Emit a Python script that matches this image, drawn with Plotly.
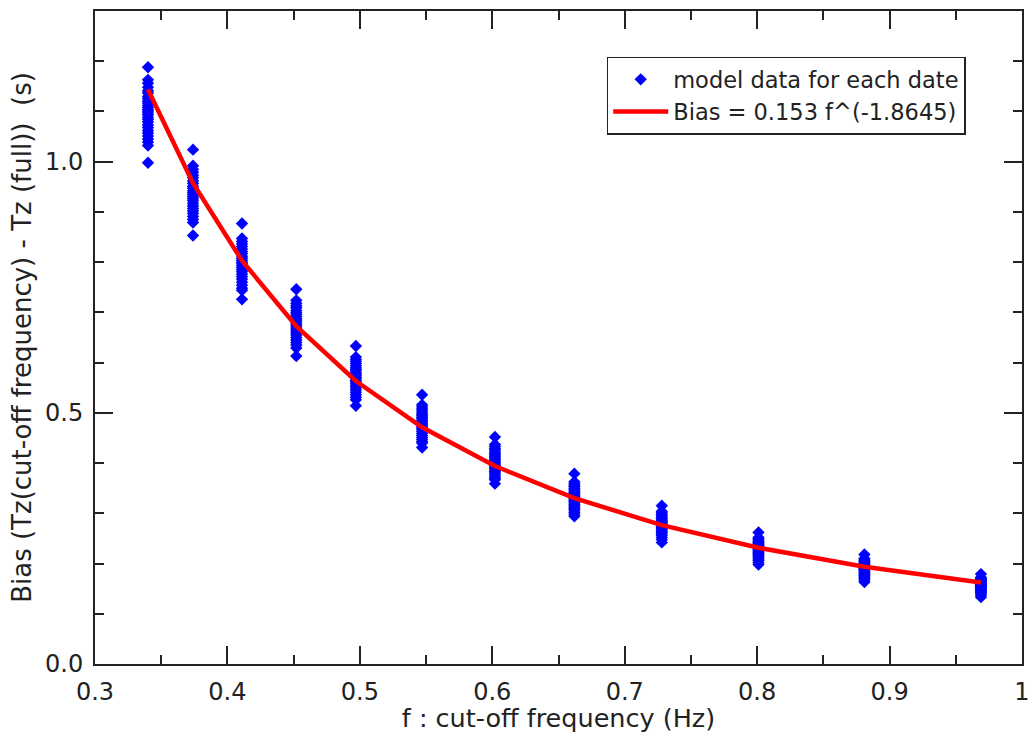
import numpy as np
import plotly.graph_objects as go

# Cut-off frequencies (Hz) used for each model run
cutoff_freq = [0.340, 0.374, 0.411, 0.452, 0.497, 0.547, 0.602, 0.662, 0.728, 0.801, 0.881, 0.969]

# Bias (s) for each date, grouped by cut-off frequency
bias_f0340 = [1.188, 1.163, 1.156, 1.148, 1.141, 1.137, 1.130, 1.126, 1.121, 1.117, 1.112, 1.108,
              1.104, 1.101, 1.097, 1.093, 1.088, 1.084, 1.079, 1.073, 1.068, 1.062, 1.057, 1.051,
              1.045, 1.039, 1.032, 0.998]
bias_f0374 = [1.024, 0.992, 0.985, 0.979, 0.973, 0.968, 0.962, 0.957, 0.951, 0.947, 0.942, 0.938,
              0.934, 0.930, 0.926, 0.922, 0.917, 0.912, 0.907, 0.902, 0.897, 0.891, 0.885, 0.879,
              0.853]
bias_f0411 = [0.877, 0.847, 0.841, 0.836, 0.831, 0.826, 0.821, 0.817, 0.812, 0.808, 0.804, 0.800,
              0.797, 0.793, 0.789, 0.785, 0.781, 0.776, 0.771, 0.766, 0.760, 0.754, 0.748, 0.744,
              0.726]
bias_f0452 = [0.746, 0.724, 0.718, 0.713, 0.709, 0.704, 0.700, 0.696, 0.692, 0.688, 0.685, 0.682,
              0.678, 0.675, 0.671, 0.667, 0.663, 0.659, 0.655, 0.650, 0.645, 0.640, 0.635, 0.629,
              0.613]
bias_f0497 = [0.633, 0.611, 0.606, 0.602, 0.598, 0.594, 0.590, 0.587, 0.584, 0.580, 0.577, 0.574,
              0.571, 0.568, 0.565, 0.562, 0.558, 0.554, 0.550, 0.546, 0.541, 0.536, 0.531, 0.526,
              0.514]
bias_f0547 = [0.536, 0.516, 0.512, 0.508, 0.504, 0.500, 0.497, 0.494, 0.491, 0.488, 0.485, 0.482,
              0.479, 0.476, 0.473, 0.470, 0.467, 0.463, 0.459, 0.455, 0.451, 0.447, 0.443, 0.440,
              0.431]
bias_f0602 = [0.452, 0.437, 0.433, 0.429, 0.426, 0.422, 0.419, 0.416, 0.413, 0.410, 0.407, 0.404,
              0.401, 0.398, 0.395, 0.392, 0.389, 0.386, 0.383, 0.380, 0.377, 0.373, 0.370, 0.367,
              0.359]
bias_f0662 = [0.379, 0.363, 0.359, 0.356, 0.353, 0.350, 0.347, 0.344, 0.341, 0.339, 0.336, 0.334,
              0.331, 0.329, 0.326, 0.324, 0.321, 0.318, 0.315, 0.312, 0.309, 0.306, 0.302, 0.298,
              0.294]
bias_f0728 = [0.315, 0.304, 0.301, 0.298, 0.295, 0.292, 0.290, 0.288, 0.285, 0.283, 0.281, 0.279,
              0.277, 0.275, 0.273, 0.271, 0.269, 0.267, 0.264, 0.262, 0.259, 0.256, 0.252, 0.248,
              0.242]
bias_f0801 = [0.262, 0.252, 0.249, 0.247, 0.244, 0.242, 0.240, 0.238, 0.236, 0.234, 0.232, 0.231,
              0.229, 0.227, 0.225, 0.223, 0.221, 0.219, 0.217, 0.215, 0.212, 0.209, 0.206, 0.202,
              0.198]
bias_f0881 = [0.218, 0.210, 0.207, 0.205, 0.203, 0.201, 0.199, 0.197, 0.196, 0.194, 0.193, 0.191,
              0.190, 0.188, 0.187, 0.185, 0.183, 0.181, 0.179, 0.177, 0.175, 0.173, 0.170, 0.167,
              0.163]
bias_f0969 = [0.179, 0.172, 0.170, 0.168, 0.166, 0.165, 0.163, 0.162, 0.161, 0.159, 0.158, 0.157,
              0.156, 0.155, 0.153, 0.152, 0.151, 0.149, 0.148, 0.146, 0.144, 0.142, 0.140, 0.137,
              0.133]

# Power-law fit: Bias = 0.153 f^(-1.8645)
fit_coef = 0.153
fit_exp = -1.8645

groups = [bias_f0340, bias_f0374, bias_f0411, bias_f0452, bias_f0497, bias_f0547,
          bias_f0602, bias_f0662, bias_f0728, bias_f0801, bias_f0881, bias_f0969]

scatter_x, scatter_y = [], []
for f, vals in zip(cutoff_freq, groups):
    scatter_x.extend([f] * len(vals))
    scatter_y.extend(vals)

fit_x = np.array(cutoff_freq)
fit_y = fit_coef * fit_x ** fit_exp

FONT = "DejaVu Sans"
INK = "#222222"

fig = go.Figure()
fig.add_trace(go.Scatter(
    x=scatter_x, y=scatter_y, mode="markers",
    marker=dict(symbol="diamond", size=9.5, color="#0000ff", line=dict(width=0)),
    name="model data for each date",
))
fig.add_trace(go.Scatter(
    x=fit_x, y=fit_y, mode="lines",
    line=dict(color="#ff0000", width=4.5),
    name="Bias = 0.153 f^(-1.8645)",
))

axis_common = dict(
    showgrid=False, zeroline=False,
    showline=True, linecolor=INK, linewidth=2, mirror="allticks",
    ticks="inside", ticklen=18, tickwidth=1.5, tickcolor=INK,
    tickfont=dict(family=FONT, size=24, color=INK),
    ticklabelstandoff=5,
    ticklabeloverflow="allow",
)

fig.update_xaxes(
    range=[0.3, 1.0], tickmode="linear", tick0=0.3, dtick=0.1,
    minor=dict(ticks="inside", ticklen=9, tickwidth=1.5, tickcolor=INK, dtick=0.05, tick0=0.3),
    title=dict(text="f : cut-off frequency (Hz)", font=dict(family=FONT, size=25.5, color=INK), standoff=3),
    **axis_common,
)
fig.update_yaxes(
    range=[0.0, 1.3], tickmode="linear", tick0=0.0, dtick=0.5, tickformat=".1f",
    minor=dict(ticks="inside", ticklen=9, tickwidth=1.5, tickcolor=INK, dtick=0.1, tick0=0.0),
    title=dict(text="Bias (Tz(cut-off frequency) - Tz (full))  (s)",
               font=dict(family=FONT, size=26, color=INK), standoff=6),
    **axis_common,
)

fig.update_layout(
    width=1035, height=733,
    margin=dict(l=95, r=5, t=11, b=69),
    paper_bgcolor="white", plot_bgcolor="white",
    showlegend=True,
    legend=dict(
        x=0.552, y=0.93, xanchor="left", yanchor="top",
        bgcolor="white", bordercolor=INK, borderwidth=1.5,
        font=dict(family=FONT, size=22.5, color=INK),
        itemwidth=55, tracegroupgap=0,
    ),
)

fig.write_html("out.html")
